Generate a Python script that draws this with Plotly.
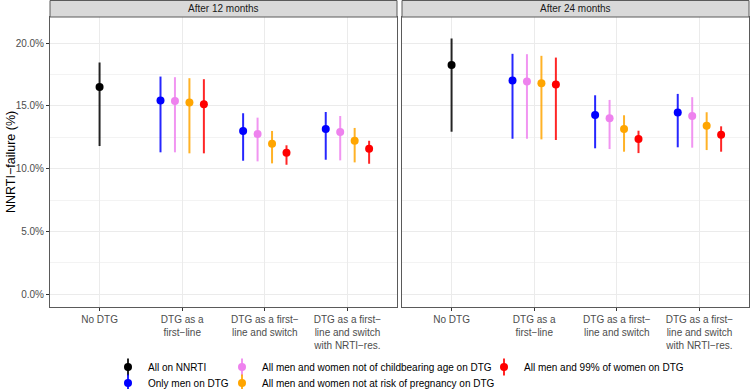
import plotly.graph_objects as go

# ---------------- data ----------------
categories = ["No DTG", "DTG as a first−line", "DTG as a first−line and switch",
              "DTG as a first−line and switch with NRTI−res."]
tick_labels = ["No DTG", "DTG as a<br>first−line", "DTG as a first−<br>line and switch",
               "DTG as a first−<br>line and switch<br>with NRTI−res."]
panels = ["After 12 months", "After 24 months"]

scenarios = ["All on NNRTI", "Only men on DTG",
             "All men and women not of childbearing age on DTG",
             "All men and women not at risk of pregnancy on DTG",
             "All men and 99% of women on DTG"]
colors = ["black", "blue", "violet", "orange", "red"]

# After 12 months (NNRTI failure, %)
m12_nnrti_est = [16.50, None, None, None]
m12_nnrti_lo = [11.80, None, None, None]
m12_nnrti_hi = [18.45, None, None, None]
m12_men_est = [None, 15.42, 13.00, 13.16]
m12_men_lo = [None, 11.30, 10.63, 10.71]
m12_men_hi = [None, 17.33, 14.41, 14.51]
m12_nochild_est = [None, 15.39, 12.76, 12.92]
m12_nochild_lo = [None, 11.30, 10.58, 10.66]
m12_nochild_hi = [None, 17.28, 14.06, 14.19]
m12_norisk_est = [None, 15.26, 11.99, 12.22]
m12_norisk_lo = [None, 11.22, 10.42, 10.50]
m12_norisk_hi = [None, 17.20, 13.00, 13.24]
m12_w99_est = [None, 15.13, 11.27, 11.59]
m12_w99_lo = [None, 11.22, 10.31, 10.39]
m12_w99_hi = [None, 17.12, 11.86, 12.22]

# After 24 months (NNRTI failure, %)
m24_nnrti_est = [18.24, None, None, None]
m24_nnrti_lo = [12.94, None, None, None]
m24_nnrti_hi = [20.36, None, None, None]
m24_men_est = [None, 17.01, 14.27, 14.46]
m24_men_lo = [None, 12.38, 11.62, 11.70]
m24_men_hi = [None, 19.14, 15.84, 15.95]
m24_nochild_est = [None, 16.93, 14.01, 14.19]
m24_nochild_lo = [None, 12.38, 11.56, 11.67]
m24_nochild_hi = [None, 19.11, 15.47, 15.69]
m24_norisk_est = [None, 16.80, 13.16, 13.42]
m24_norisk_lo = [None, 12.33, 11.35, 11.48]
m24_norisk_hi = [None, 18.98, 14.25, 14.49]
m24_w99_est = [None, 16.69, 12.36, 12.70]
m24_w99_lo = [None, 12.28, 11.24, 11.35]
m24_w99_hi = [None, 18.84, 13.02, 13.37]

y_ticks = [0, 5, 10, 15, 20]
y_minor = [2.5, 7.5, 12.5, 17.5]

panel_data = [
    [(m12_nnrti_est, m12_nnrti_lo, m12_nnrti_hi), (m12_men_est, m12_men_lo, m12_men_hi),
     (m12_nochild_est, m12_nochild_lo, m12_nochild_hi), (m12_norisk_est, m12_norisk_lo, m12_norisk_hi),
     (m12_w99_est, m12_w99_lo, m12_w99_hi)],
    [(m24_nnrti_est, m24_nnrti_lo, m24_nnrti_hi), (m24_men_est, m24_men_lo, m24_men_hi),
     (m24_nochild_est, m24_nochild_lo, m24_nochild_hi), (m24_norisk_est, m24_norisk_lo, m24_norisk_hi),
     (m24_w99_est, m24_w99_lo, m24_w99_hi)],
]

# ---------------- style ----------------
FONT = "Liberation Sans, Arial, sans-serif"
W, H = 750, 389
ML, MR, MT, MB = 50, 1, 17, 82
PW = W - ML - MR
PH = H - MT - MB
GAP = 5
border = "#5a5a5a"
DODGE = 0.7

def dodge_x(panel, s_idx, c_idx):
    present = [i for i in range(len(scenarios)) if panel[i][0][c_idx] is not None]
    n = len(present)
    slot = present.index(s_idx)
    return (c_idx + 1) + (slot - (n - 1) / 2) * DODGE / n

def rgba(name, a):
    table = {"black": (0, 0, 0), "blue": (0, 0, 255), "violet": (238, 130, 238),
             "orange": (255, 165, 0), "red": (255, 0, 0)}
    r, g, b = table[name]
    return f"rgba({r},{g},{b},{a})"

fig = go.Figure()
legend_ids = ["legend", "legend2", "legend3", "legend4", "legend5"]
glyph_ids = ["legend6", "legend7", "legend8", "legend9", "legend10"]

for p, panel in enumerate(panel_data):
    xa = "x" if p == 0 else "x2"
    ya = "y" if p == 0 else "y2"
    for s, (est, lo, hi) in enumerate(panel):
        xs, ys, up, dn = [], [], [], []
        for c in range(len(categories)):
            if est[c] is None:
                continue
            xs.append(dodge_x(panel, s, c))
            ys.append(est[c])
            up.append(hi[c] - est[c])
            dn.append(est[c] - lo[c])
        fig.add_trace(go.Scatter(
            x=xs, y=ys, mode="markers", name=scenarios[s],
            xaxis=xa, yaxis=ya,
            marker=dict(color=colors[s], size=8, line=dict(width=0)),
            error_y=dict(type="data", symmetric=False, array=up, arrayminus=dn,
                         color=rgba(colors[s], 0.85), thickness=2, width=0),
            showlegend=(p == 0), legend=legend_ids[s],
            legendgroup=scenarios[s],
        ))

# vertical range glyphs for the legend keys (legend-only entries)
for s in range(len(scenarios)):
    fig.add_trace(go.Scatter(
        x=[None], y=[None], mode="markers", name="",
        marker=dict(symbol="line-ns", size=12, color=rgba(colors[s], 0.85),
                    line=dict(width=2, color=rgba(colors[s], 0.85))),
        showlegend=True, legend=glyph_ids[s], legendgroup=scenarios[s],
        hoverinfo="skip",
    ))

axis_common = dict(
    showline=True, mirror=True, linecolor=border, linewidth=1,
    gridcolor="#ebebeb", gridwidth=1, zeroline=False, automargin=False,
    ticks="outside", ticklen=3, tickcolor="#333333", tickwidth=1,
    tickfont=dict(family=FONT, size=10, color="#4d4d4d"),
)

d1 = (PW - GAP) / 2 / PW
fig.update_layout(
    xaxis=dict(axis_common, domain=[0, d1], range=[0.4, 4.6], tickmode="array",
               tickvals=[1, 2, 3, 4], ticktext=tick_labels, anchor="y"),
    xaxis2=dict(axis_common, domain=[1 - d1, 1], range=[0.4, 4.6], tickmode="array",
                tickvals=[1, 2, 3, 4], ticktext=tick_labels, anchor="y2"),
)

def y_axis(anchor, labels):
    d = dict(axis_common, anchor=anchor, range=[-1.01, 22.07], autorange=False,
             tickmode="array", tickvals=y_ticks,
             ticktext=[f"{v:.1f}%" for v in y_ticks],
             minor=dict(tickmode="array", tickvals=y_minor, showgrid=True,
                        gridcolor="#f3f3f3", gridwidth=0.6, ticks=""))
    if not labels:
        d.update(showticklabels=False, ticks="")
    return d

fig.update_layout(yaxis=y_axis("x", True), yaxis2=y_axis("x2", False))

# y axis title
fig.add_annotation(xref="paper", yref="paper", x=(11 - ML) / PW, y=0.5,
                   text="NNRTI−failure (%)", textangle=-90, showarrow=False,
                   xanchor="center", yanchor="middle",
                   font=dict(family=FONT, size=12.5, color="black"))

# facet strips
for i, name in enumerate(panels):
    xr = "x domain" if i == 0 else "x2 domain"
    fig.add_shape(type="rect", xref=xr, yref="paper", x0=0, x1=1, y0=1, y1=1 + (MT - 0.5) / PH,
                  fillcolor="#d9d9d9", line=dict(color=border, width=1), layer="above")
    fig.add_annotation(xref=xr, yref="paper", x=0.5, y=1 + (MT / 2) / PH, text=name,
                       showarrow=False, xanchor="center", yanchor="middle",
                       font=dict(family=FONT, size=10, color="#1a1a1a"))

# legends (ggplot-like 3 column layout, filled by column)
leg_pos = [(145, 367), (145, 383), (259, 367), (259, 383), (521, 367)]
for ids in (legend_ids, glyph_ids):
    for lid, (tx, ty) in zip(ids, leg_pos):
        fig.update_layout({lid: dict(
            xref="container", yref="container", x=(tx - 37) / W, y=1 - ty / H,
            xanchor="left", yanchor="middle", orientation="v",
            bgcolor="rgba(0,0,0,0)", borderwidth=0,
            font=dict(family=FONT, size=10, color="black"),
        )})

fig.update_layout(
    width=W, height=H,
    margin=dict(l=ML, r=MR, t=MT, b=MB, autoexpand=False),
    paper_bgcolor="white", plot_bgcolor="white",
    font=dict(family=FONT, size=10, color="#4d4d4d"),
)

fig.write_html("out.html", config={"displayModeBar": False},
               post_script="document.body.style.margin='0';")
